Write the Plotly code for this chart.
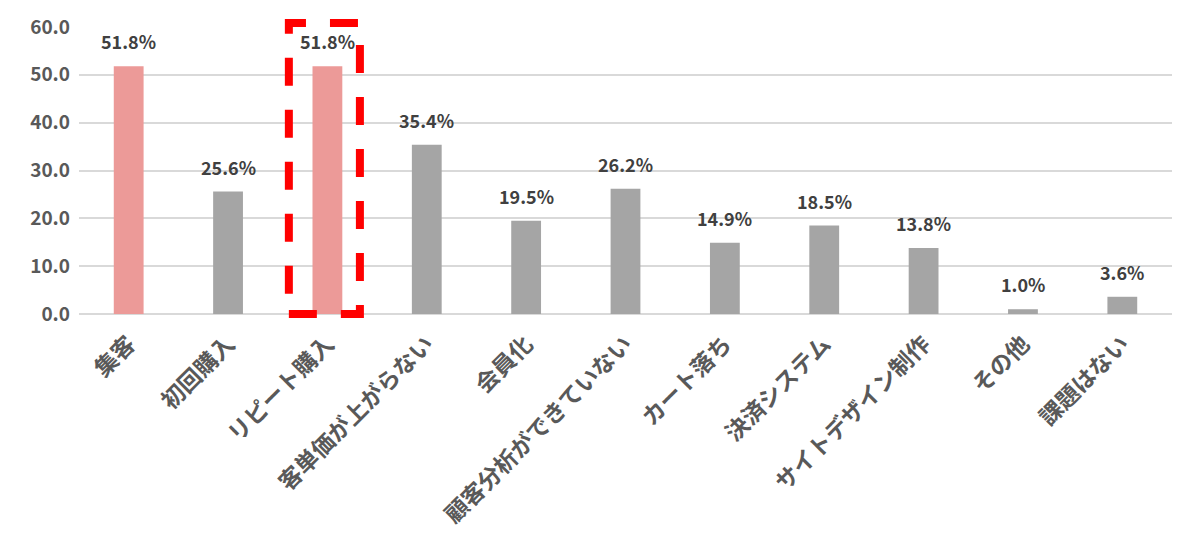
import plotly.graph_objects as go

# 課題の回答割合 (%)
categories = ["集客", "初回購入", "リピート購入", "客単価が上がらない", "会員化",
              "顧客分析ができていない", "カート落ち", "決済システム",
              "サイトデザイン制作", "その他", "課題はない"]
values = [51.8, 25.6, 51.8, 35.4, 19.5, 26.2, 14.9, 18.5, 13.8, 1.0, 3.6]
highlight = ["集客", "リピート購入"]

y_ticks = [0, 10, 20, 30, 40, 50, 60]

PINK = "#ec9a98"
GRAY = "#a5a5a5"
FONT = "Noto Sans CJK JP"

colors = [PINK if c in highlight else GRAY for c in categories]

fig = go.Figure()
fig.add_trace(go.Bar(x=categories, y=values, marker_color=colors,
                     marker_line_width=0, hoverinfo="skip"))

# data labels above each bar (Excel style "outside end")
for c, v in zip(categories, values):
    fig.add_annotation(x=c, y=v, text="{:.1f}%".format(v), showarrow=False,
                       yanchor="bottom", yshift=10,
                       font=dict(family=FONT, size=18, color="#404040", weight="bold"))

# red dashed frame around リピート購入
fig.add_shape(type="rect", xref="paper", yref="paper",
              x0=0.192, x1=0.257, y0=0.0, y1=1.014,
              line=dict(color="#ff0000", width=8, dash="28px,24px"),
              fillcolor="rgba(0,0,0,0)", layer="above")

# page body has an 8px margin, so shift margins to land the plot area in place
fig.update_layout(
    width=1200, height=550,
    margin=dict(l=71, r=36, t=19, b=244),
    plot_bgcolor="white", paper_bgcolor="white",
    bargap=0.7, showlegend=False,
    font=dict(family=FONT, color="#595959"),
)
fig.update_yaxes(range=[0, 60], tickvals=y_ticks, tickformat=".1f",
                 showgrid=True, gridcolor="#d9d9d9", gridwidth=1.5,
                 zeroline=True, zerolinecolor="#d9d9d9", zerolinewidth=1.5,
                 ticks="", ticklabelstandoff=8, automargin=False,
                 tickfont=dict(family=FONT, size=19, color="#595959", weight="bold"))
fig.update_xaxes(tickangle=-45, ticks="", showline=False, ticklabelstandoff=11,
                 automargin=False,
                 tickfont=dict(family=FONT, size=23, color="#595959", weight="bold"))

fig.write_html("out.html")
